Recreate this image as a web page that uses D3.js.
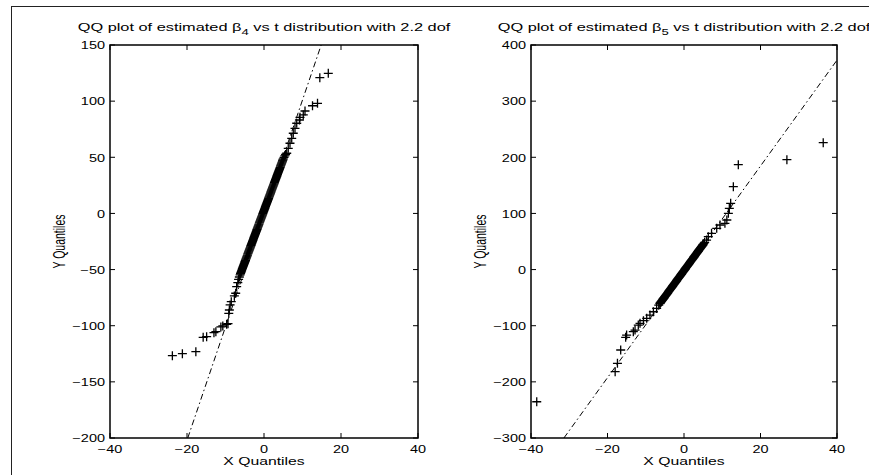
<!DOCTYPE html>
<html>
<head>
<meta charset="utf-8">
<script src="https://cdn.jsdelivr.net/npm/d3@7"></script>
<style>
  body { margin: 0; background: #fff; }
  svg { display: block; }
  text { font-family: "Liberation Sans", Arial, Helvetica, sans-serif; fill: #000; }
</style>
</head>
<body>
<svg id="chart" width="869" height="475"></svg>
<script>
// ---- Sample quantiles (sorted) vs t(2.2) quantiles, estimated beta_4 ----
const b4QuantX = [-23.8,-21.2,-17.7,-15.8,-14.9,-13.0,-12.5,-11.2,-10.7,-9.7,-9.35,-9.15,-9.0,-8.8,-8.5,-7.7,-7.35,-7.1,-6.8,-6.6,-6.4,-6.2,
  -6.1,-6.0,-5.9,-5.8,-5.7,-5.6,-5.5,-5.4,-5.3,-5.2,-5.1,-5.0,-4.9,-4.8,-4.7,-4.6,-4.5,-4.4,-4.3,-4.2,-4.1,-4.0,
  -3.9,-3.8,-3.7,-3.6,-3.5,-3.4,-3.3,-3.2,-3.1,-3.0,-2.9,-2.8,-2.7,-2.6,-2.5,-2.4,-2.3,-2.2,-2.1,-2.0,
  -1.9,-1.8,-1.7,-1.6,-1.5,-1.4,-1.3,-1.2,-1.1,-1.0,-0.9,-0.8,-0.7,-0.6,-0.5,-0.4,-0.3,-0.2,-0.1,
  0.0,0.1,0.2,0.3,0.4,0.5,0.6,0.7,0.8,0.9,1.0,1.1,1.2,1.3,1.4,1.5,1.6,1.7,1.8,1.9,
  2.0,2.1,2.2,2.3,2.4,2.5,2.6,2.7,2.8,2.9,3.0,3.1,3.2,3.3,3.4,3.5,3.6,3.7,3.8,3.9,
  4.0,4.1,4.2,4.3,4.4,4.5,4.6,4.7,4.8,4.9,5.0,5.2,5.4,5.6,
  5.9,6.3,6.75,7.2,7.6,8.05,8.5,9.2,9.35,10.2,10.65,12.6,13.9,14.5,16.7];
const b4QuantY = [-126.7,-124.9,-123.1,-110.3,-109.8,-106.2,-105.3,-101.1,-100.2,-98.7,-98.2,-89.0,-86.0,-81.5,-78.6,-73.5,-71.1,-65.2,-61.7,-58.7,-56.6,-54.8,
  -53.6,-52.7,-51.8,-50.9,-49.9,-49.0,-48.1,-47.2,-46.3,-45.3,-44.4,-43.5,-42.6,-41.7,-40.7,-39.8,-38.9,-38.0,-37.1,-36.1,-35.2,-34.3,
  -33.4,-32.5,-31.5,-30.6,-29.7,-28.8,-27.9,-26.9,-26.0,-25.1,-24.2,-23.3,-22.3,-21.4,-20.5,-19.6,-18.7,-17.7,-16.8,-15.9,
  -15.0,-14.1,-13.1,-12.2,-11.3,-10.4,-9.5,-8.5,-7.6,-6.7,-5.8,-4.9,-3.9,-3.0,-2.1,-1.2,-0.3,0.7,1.6,
  2.5,3.4,4.3,5.3,6.2,7.1,8.0,8.9,9.9,10.8,11.7,12.6,13.5,14.5,15.4,16.3,17.2,18.1,19.1,20.0,
  20.9,21.8,22.7,23.7,24.6,25.5,26.4,27.3,28.3,29.2,30.1,31.0,31.9,32.9,33.8,34.7,35.6,36.5,37.5,38.4,
  39.3,40.2,41.1,42.1,43.0,43.9,44.8,45.7,46.7,47.6,48.5,50.0,51.3,52.5,
  53.6,58.0,62.5,66.9,71.4,75.8,80.3,83.2,85.6,87.7,91.2,95.9,98.1,120.9,124.8];
// reference line through the quartiles, taken to the axis edges
const b4RefX = [-19.8, 14.85];
const b4RefY = [-200, 150];

// ---- Same for estimated beta_5 ----
const b5QuantX = [-38.5,-18.0,-17.4,-16.55,-15.25,-15.0,-13.25,-12.8,-11.95,-11.5,-10.6,-9.75,-8.9,-8.0,-7.15,-6.6,
  -6.3,-6.2,-6.1,-6.0,-5.9,-5.8,-5.7,-5.6,-5.5,-5.4,-5.3,-5.2,-5.1,-5.0,-4.9,-4.8,-4.7,-4.6,-4.5,-4.4,-4.3,-4.2,-4.1,-4.0,
  -3.9,-3.8,-3.7,-3.6,-3.5,-3.4,-3.3,-3.2,-3.1,-3.0,-2.9,-2.8,-2.7,-2.6,-2.5,-2.4,-2.3,-2.2,-2.1,-2.0,
  -1.9,-1.8,-1.7,-1.6,-1.5,-1.4,-1.3,-1.2,-1.1,-1.0,-0.9,-0.8,-0.7,-0.6,-0.5,-0.4,-0.3,-0.2,-0.1,
  0.0,0.1,0.2,0.3,0.4,0.5,0.6,0.7,0.8,0.9,1.0,1.1,1.2,1.3,1.4,1.5,1.6,1.7,1.8,1.9,
  2.0,2.1,2.2,2.3,2.4,2.5,2.6,2.7,2.8,2.9,3.0,3.1,3.2,3.3,3.4,3.5,3.6,3.7,3.8,3.9,
  4.0,4.1,4.2,4.3,4.4,4.5,4.6,4.7,4.8,4.9,5.0,5.2,5.4,
  5.9,6.35,7.2,8.55,9.4,10.7,11.2,11.6,11.85,12.2,12.9,14.2,26.9,36.4];
const b5QuantY = [-235.4,-181.9,-167.0,-143.3,-120.6,-116.6,-110.7,-107.7,-98.8,-95.8,-91.1,-86.8,-81.0,-75.1,-69.2,-63.5,
  -60.4,-59.5,-58.5,-57.6,-56.7,-55.7,-54.8,-53.9,-52.9,-52.0,-51.1,-50.2,-49.2,-48.3,-47.4,-46.4,-45.5,-44.6,-43.7,-42.7,-41.8,-40.9,-39.9,-39.0,
  -38.1,-37.1,-36.2,-35.3,-34.4,-33.4,-32.5,-31.6,-30.6,-29.7,-28.8,-27.8,-26.9,-26.0,-25.1,-24.1,-23.2,-22.3,-21.3,-20.4,
  -19.5,-18.5,-17.6,-16.7,-15.8,-14.8,-13.9,-13.0,-12.0,-11.1,-10.2,-9.2,-8.3,-7.4,-6.5,-5.5,-4.6,-3.7,-2.7,
  -1.8,-0.9,0.1,1.0,1.9,2.9,3.8,4.7,5.6,6.6,7.5,8.4,9.4,10.3,11.2,12.2,13.1,14.0,14.9,15.9,
  16.8,17.7,18.7,19.6,20.5,21.5,22.4,23.3,24.2,25.2,26.1,27.0,28.0,28.9,29.8,30.8,31.7,32.6,33.5,34.5,
  35.4,36.3,37.3,38.2,39.1,40.1,41.0,41.9,42.8,43.8,44.7,46.6,48.5,
  52.6,58.6,64.6,73.5,79.4,82.4,88.3,100.2,109.0,118.0,147.6,186.8,195.7,226.0];
const b5RefX = [-31.4, 40];
const b5RefY = [-300, 373];

// ---- Axes ----
const xTicks = [-40, -20, 0, 20, 40];
const b4YTicks = [-200, -150, -100, -50, 0, 50, 100, 150];
const b5YTicks = [-300, -200, -100, 0, 100, 200, 300, 400];
const xDomain = [-40, 40];
const b4YDomain = [-200, 150];
const b5YDomain = [-300, 400];
const subscripts = ["4", "5"];

const svg = d3.select("#chart");

// page frame
svg.append("rect")
  .attr("x", 11.5).attr("y", 6.5).attr("width", 900).attr("height", 500)
  .attr("fill", "none").attr("stroke", "#222").attr("stroke-width", 1);

// horizontal stretch applied to all lettering
const TICK_FS = 10.2, TICK_SX = 1.42;
const LAB_FS = 10.5, LAB_SX = 1.5;
const TTL_FS = 11.2, TTL_SX = 1.46;

function panel(cfg) {
  const x = d3.scaleLinear().domain(xDomain).range([cfg.left, cfg.right]);
  const y = d3.scaleLinear().domain(cfg.yDomain).range([cfg.bottom, cfg.top]);
  const g = svg.append("g");
  const clipId = "clip" + cfg.id;
  svg.append("clipPath").attr("id", clipId)
    .append("rect").attr("x", cfg.left).attr("y", cfg.top)
    .attr("width", cfg.right - cfg.left).attr("height", cfg.bottom - cfg.top);

  // reference line (dash-dot)
  g.append("line")
    .attr("clip-path", `url(#${clipId})`)
    .attr("x1", x(cfg.refX[0])).attr("y1", y(cfg.refY[0]))
    .attr("x2", x(cfg.refX[1])).attr("y2", y(cfg.refY[1]))
    .attr("stroke", "#000").attr("stroke-width", 1)
    .attr("stroke-dasharray", "6,3,1.5,3");

  // '+' markers
  const pts = cfg.qx.map((v, i) => [v, cfg.qy[i]]);
  g.append("g").attr("clip-path", `url(#${clipId})`)
    .selectAll("path").data(pts).join("path")
    .attr("transform", d => `translate(${x(d[0])},${y(d[1])})`)
    .attr("d", "M-4.5,0H4.5M0,-4.5V4.5")
    .attr("stroke", "#000").attr("stroke-width", 1.3).attr("fill", "none");

  // box
  g.append("rect")
    .attr("x", cfg.left).attr("y", cfg.top)
    .attr("width", cfg.right - cfg.left).attr("height", cfg.bottom - cfg.top)
    .attr("fill", "none").attr("stroke", "#000").attr("stroke-width", 1.5);

  // inward ticks on all four sides
  const TL = 5;
  const tk = g.append("g").attr("stroke", "#000").attr("stroke-width", 1);
  xTicks.forEach(t => {
    const px = x(t);
    tk.append("line").attr("x1", px).attr("x2", px).attr("y1", cfg.bottom).attr("y2", cfg.bottom - TL);
    tk.append("line").attr("x1", px).attr("x2", px).attr("y1", cfg.top).attr("y2", cfg.top + TL);
  });
  cfg.yTicks.forEach(t => {
    const py = y(t);
    tk.append("line").attr("x1", cfg.left).attr("x2", cfg.left + TL).attr("y1", py).attr("y2", py);
    tk.append("line").attr("x1", cfg.right).attr("x2", cfg.right - TL).attr("y1", py).attr("y2", py);
  });

  const fmt = d3.format("");
  // tick labels
  xTicks.forEach(t => {
    g.append("text")
      .attr("transform", `translate(${x(t)},${cfg.bottom + 14.5}) scale(${TICK_SX},1)`)
      .attr("text-anchor", "middle").attr("font-size", TICK_FS)
      .text(fmt(t));
  });
  cfg.yTicks.forEach(t => {
    g.append("text")
      .attr("transform", `translate(${cfg.left - 5},${y(t) + 4.3}) scale(${TICK_SX},1)`)
      .attr("text-anchor", "end").attr("font-size", TICK_FS)
      .text(fmt(t));
  });

  // axis labels
  const cx = (cfg.left + cfg.right) / 2;
  const cy = (cfg.top + cfg.bottom) / 2;
  g.append("text")
    .attr("transform", `translate(${cx},${cfg.bottom + 26.5}) scale(${LAB_SX},1)`)
    .attr("text-anchor", "middle").attr("font-size", LAB_FS)
    .text("X Quantiles");
  g.append("text")
    .attr("transform", `translate(${cfg.left - 45},${cy}) rotate(-90) scale(1,${LAB_SX})`)
    .attr("text-anchor", "middle").attr("font-size", LAB_FS)
    .text("Y Quantiles");

  // title with subscripted beta
  const tt = g.append("text")
    .attr("transform", `translate(${cx},${cfg.top - 14.5}) scale(${TTL_SX},1)`)
    .attr("text-anchor", "middle").attr("font-size", TTL_FS);
  tt.append("tspan").text("QQ plot of estimated \u03B2");
  tt.append("tspan").attr("font-size", 9).attr("dy", 4).text(cfg.sub);
  tt.append("tspan").attr("dy", -4).text(" vs t distribution with 2.2 dof");
}

panel({ id: 1, left: 110, right: 418, top: 45, bottom: 438,
  yDomain: b4YDomain, yTicks: b4YTicks, qx: b4QuantX, qy: b4QuantY,
  refX: b4RefX, refY: b4RefY, sub: subscripts[0] });
panel({ id: 2, left: 531, right: 837, top: 45, bottom: 438,
  yDomain: b5YDomain, yTicks: b5YTicks, qx: b5QuantX, qy: b5QuantY,
  refX: b5RefX, refY: b5RefY, sub: subscripts[1] });
</script>
</body>
</html>
